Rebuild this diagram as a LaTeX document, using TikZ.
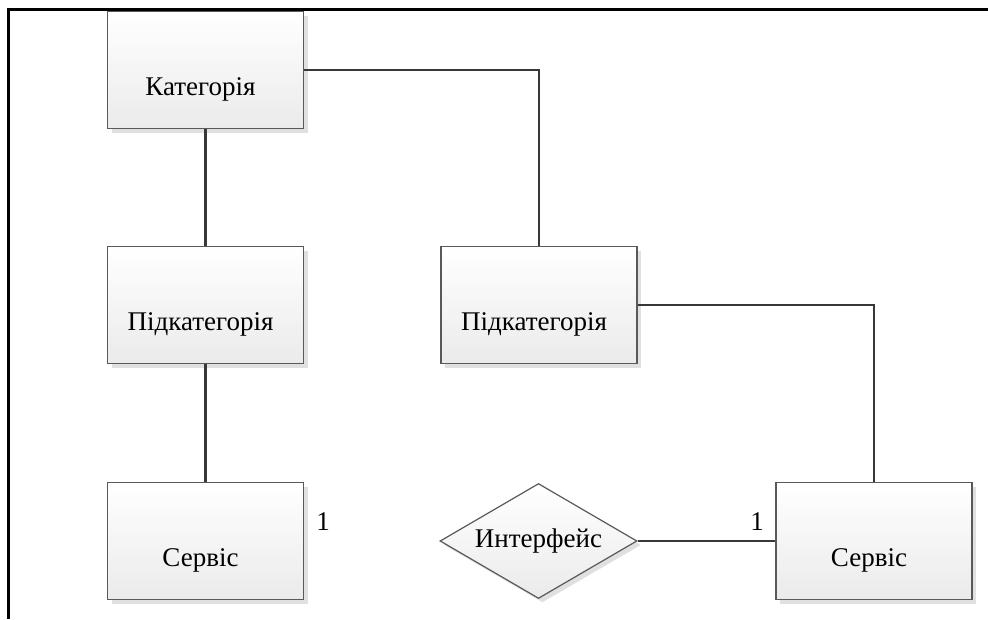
\documentclass[tikz,border=0pt]{standalone}
\usepackage{fontspec}
\setmainfont{Liberation Serif}
\newfontfamily\erserif{Liberation Serif}
\usetikzlibrary{shapes.geometric,shadows}
\newcommand\erfont{\erserif\fontsize{27}{31}\selectfont}
\begin{document}
\begin{tikzpicture}[x=1pt,y=-1pt]
\tikzset{
  shape shade/.style={top color=white, bottom color=black!8,
    drop shadow={shadow xshift=4pt, shadow yshift=-4pt, fill=black!12, opacity=1}},
  entity/.style={rectangle, draw=black!65, line width=1.2pt, shape shade,
    minimum width=196pt, minimum height=117pt, inner sep=0pt},
  relation/.style={diamond, aspect=1.7, draw=black!65, line width=1.2pt, shape shade,
    minimum width=197pt, minimum height=115pt, inner sep=0pt, font=\erfont},
  link/.style={draw=black!78, line width=2.4pt},
  card/.style={font=\erfont, inner sep=0pt},
  title/.style={font=\erfont, xshift=-5pt, yshift=-19pt},
}
\useasboundingbox (0,0) rectangle (988,619);

% outer frame: top and left edges only
\draw[line width=3pt] (8,619) -- (8,9) -- (988,9);

% entities
\node[entity, label={[title]center:Категорія}]    (cat)  at (205.5,70)  {};
\node[entity, label={[title]center:Підкатегорія}] (sub1) at (205.5,305) {};
\node[entity, label={[title]center:Сервіс}]       (svc1) at (205.5,541) {};
\node[entity, label={[title]center:Підкатегорія}] (sub2) at (539,305)   {};
\node[entity, label={[title]center:Сервіс}]       (svc2) at (874,541)   {};

% relationship
\node[relation] (iface) at (538.5,541) {Интерфейс};

% connectors
\draw[link] (cat.south) -- (sub1.north);
\draw[link] (sub1.south) -- (svc1.north);
\draw[link] (cat.east) -| (sub2.north);
\draw[link] (sub2.east) -| (svc2.north);
\draw[link] (iface.east) -- (svc2.west);

% cardinalities
\node[card] (c1) at (323,522) {1};
\node[card] (c2) at (757,522) {1};
\end{tikzpicture}
\end{document}
